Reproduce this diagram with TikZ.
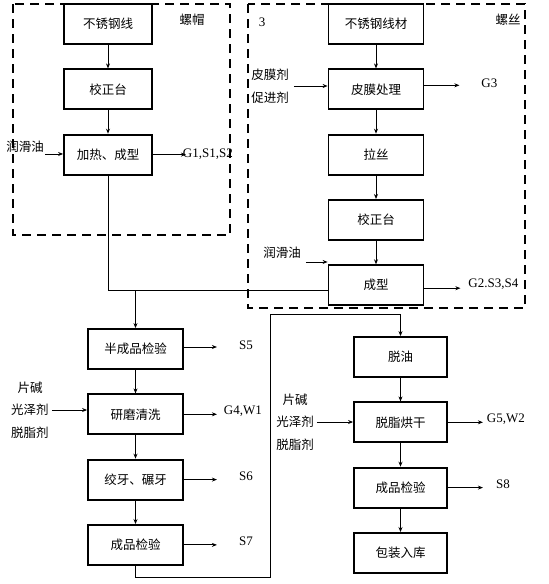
\documentclass[tikz,border=0pt]{standalone}
\usepackage{fontspec}
\setmainfont{Liberation Serif}
\newfontfamily\cjk{Noto Sans CJK SC}
\usetikzlibrary{positioning,arrows.meta}
\tikzset{
  >={Stealth[length=5pt,width=4pt]},
  proc box/.style={
    draw,
    line width=1.8pt,
    minimum height=40pt,
    minimum width=95pt,
    inner sep=1pt,
    font=\cjk\fontsize{12.5}{14}\selectfont
  },
  short box/.style={proc box,minimum width=88pt},
  group frame/.style={draw,line width=2pt,dash pattern=on 9pt off 6pt},
  in text/.style={font=\cjk\fontsize{12.5}{22.5}\selectfont,align=center,inner sep=1pt},
  out text/.style={font=\fontsize{13}{15}\selectfont,inner sep=1pt},
  flow/.style={->,line width=0.9pt},
  flow chart/.style={x=1pt,y=-1pt,node distance=23.5pt}
}
\begin{document}
\begin{tikzpicture}[flow chart]
\useasboundingbox (0,0) rectangle (549,584);
% dashed groups
\draw[group frame] (13,4) rectangle (230,235);
\draw[group frame] (248,4) rectangle (525,308);
\node[out text,font=\cjk\fontsize{12.5}{14}\selectfont] (nut)   at (192,20) {螺帽};
\node[out text,font=\cjk\fontsize{12.5}{14}\selectfont] (screw) at (508,20) {螺丝};
\node[out text] (num) at (262,22) {3};
% nut line
\node[short box]               (a1) at (108,24) {不锈钢线};
\node[short box,below=of a1]   (a2) {校正台};
\node[short box,below=of a2]   (a3) {加热、成型};
% screw line
\node[proc box]                (b1) at (376,24) {不锈钢线材};
\node[proc box,below=of b1]    (b2) {皮膜处理};
\node[proc box,below=of b2]    (b3) {拉丝};
\node[proc box,below=of b3]    (b4) {校正台};
\node[proc box,below=of b4]    (b5) {成型};
% nut finishing
\node[proc box]                (c1) at (135.5,349) {半成品检验};
\node[proc box,below=of c1]    (c2) {研磨清洗};
\node[proc box,below=of c2]    (c3) {绞牙、碾牙};
\node[proc box,below=of c3]    (c4) {成品检验};
% screw finishing
\node[proc box,minimum width=93pt] (d1) at (400.5,357) {脱油};
\node[proc box,minimum width=93pt,below=of d1] (d2) {脱脂烘干};
\node[proc box,minimum width=93pt,below=of d2] (d3) {成品检验};
\node[proc box,minimum width=93pt,below=of d3] (d4) {包装入库};
\path[flow] (a1) edge (a2)
            (a2) edge (a3)
            (b1) edge (b2)
            (b2) edge (b3)
            (b3) edge (b4)
            (b4) edge (b5)
            (c1) edge (c2)
            (c2) edge (c3)
            (c3) edge (c4)
            (d1) edge (d2)
            (d2) edge (d3)
            (d3) edge (d4);
% inputs
\node[in text] (lub1) at (25,147) {润滑油};
\draw[flow] (lub1.south east) -- (lub1.south east -| a3.west);
\node[in text] (film) at (270,86) {皮膜剂\\促进剂};
\draw[flow] ([xshift=4pt]film.east) -- (film.east -| b2.west);
\node[in text] (lub2) at (282,253) {润滑油};
\draw[flow] ([xshift=4pt,yshift=-2pt]lub2.south east) -- ([yshift=-2pt]lub2.south east -| b5.west);
\node[in text] (alk1) at (30,410) {片碱\\光泽剂\\脱脂剂};
\draw[flow] ([xshift=2pt]alk1.east) -- (alk1.east -| c2.west);
\node[in text] (alk2) at (295,422) {片碱\\光泽剂\\脱脂剂};
\draw[flow] ([xshift=2pt]alk2.east) -- (alk2.east -| d2.west);
% outputs
\draw[flow] (a3.east) -- ++(33,0) coordinate (a3o);
\node[out text] (g1) at ([xshift=22pt]a3o) {G1,S1,S2};
\draw[flow] ([yshift=4pt]b2.east) -- ++(35,0) coordinate (b2o);
\node[out text] (g3) at ([xshift=30pt,yshift=2pt]b2o) {G3};
\draw[flow] ([yshift=-3pt]b5.east) -- ++(36,0) coordinate (b5o);
\node[out text] (g2) at ([xshift=33pt,yshift=4pt]b5o) {G2.S3,S4};
\draw[flow] ([yshift=2pt]c1.east) -- ++(33,0) coordinate (c1o);
\node[out text] (s5) at ([xshift=29pt,yshift=2pt]c1o) {S5};
\draw[flow] (c2.east) -- ++(33,0) coordinate (c2o);
\node[out text] (g4) at ([xshift=26pt,yshift=3pt]c2o) {G4,W1};
\draw[flow] (c3.east) -- ++(33,0) coordinate (c3o);
\node[out text] (s6) at ([xshift=29pt,yshift=3pt]c3o) {S6};
\draw[flow] (c4.east) -- ++(33,0) coordinate (c4o);
\node[out text] (s7) at ([xshift=29pt,yshift=4pt]c4o) {S7};
\draw[flow] (d2.east) -- ++(35,0) coordinate (d2o);
\node[out text] (g5) at ([xshift=23pt,yshift=3pt]d2o) {G5,W2};
\draw[flow] (d3.east) -- ++(35,0) coordinate (d3o);
\node[out text] (s8) at ([xshift=20pt,yshift=3pt]d3o) {S8};
% joining lines
\coordinate (join) at ([yshift=-5pt]b5.west);
\draw[line width=0.9pt] (a3.south) |- (join);
\draw[flow] (c1.north |- join) -- (c1.north);
\coordinate (turn1) at (270,577);
\coordinate (turn2) at (270,314);
\draw[flow] (c4.south) |- (turn1) -- (turn2) -| (d1.north);
\end{tikzpicture}
\end{document}
